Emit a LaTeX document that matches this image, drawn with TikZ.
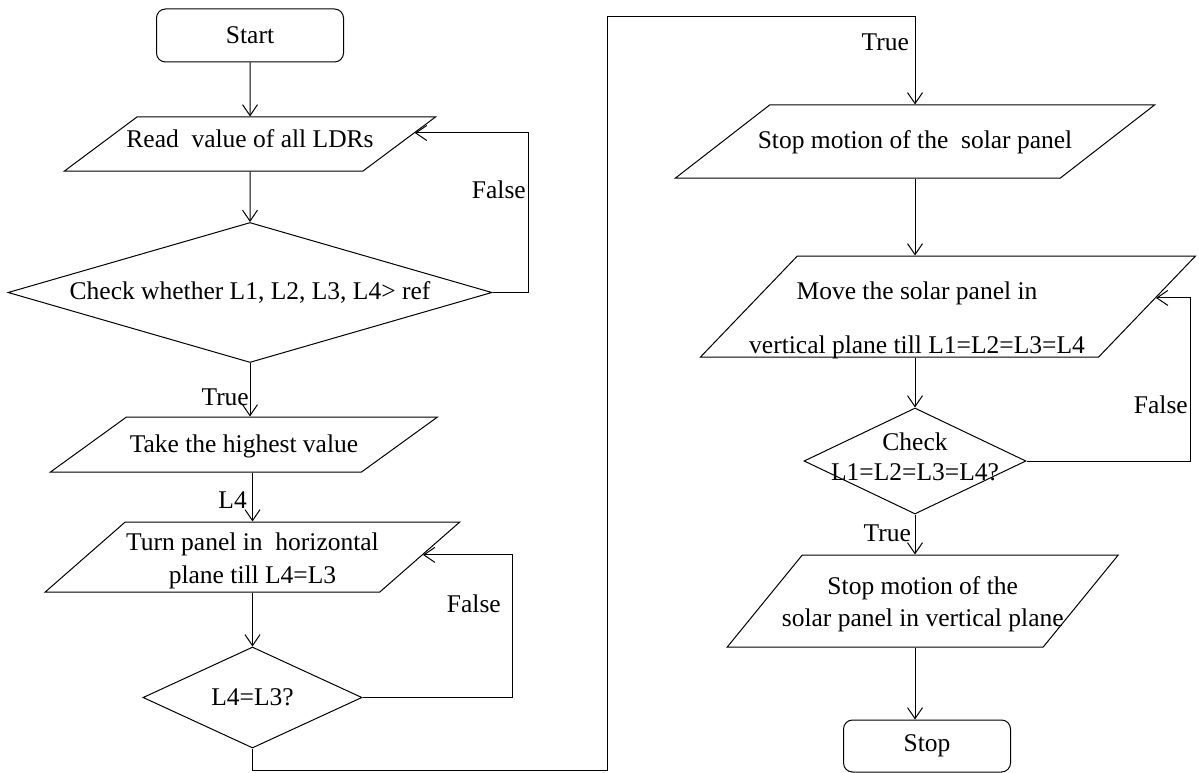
\documentclass[tikz,border=0pt]{standalone}
\usepackage{fontspec}
\setmainfont{Liberation Serif}
\usetikzlibrary{calc,arrows.meta,positioning,shapes.geometric}

\begin{document}
\begin{tikzpicture}[x=1pt, y=-1pt,
		every node/.style={font=\fontsize{25.5}{30}\selectfont},
		term/.style={draw, line width=1pt, rectangle, rounded corners=9pt},
		io/.style={draw, line width=1pt, trapezium, trapezium stretches body, inner xsep=1pt, inner ysep=0pt, align=center},
		dec/.style={draw, line width=1pt, diamond, inner sep=0pt, align=center},
		arr/.style={line width=1pt, -{Straight Barb[length=11pt, width=15pt]}},
		lbl/.style={inner sep=1pt, anchor=east}
	]
	\useasboundingbox (0,0) rectangle (1199,773);

	% Left column
	\node[term, minimum width=187pt, minimum height=53pt] (start) at (250,35.5) {Start};
	\node[io, inner xsep=-15pt, minimum width=371pt, text height=30pt, text depth=24pt, trapezium left angle=36.7, trapezium right angle=143.3] (read) at (250,144) {Read\ \ value of all LDRs};
	\node[dec, aspect=3.46, minimum width=484pt, minimum height=140pt] (chk1) at (250,292.5) {Check whether L1, L2, L3, L4> ref};
	\node[io, minimum width=387pt, text height=35pt, text depth=20pt, trapezium left angle=35.9, trapezium right angle=144.1] (take) at (244,444.5) {Take the highest value};
	\node[io, minimum width=407pt, text height=61pt, text depth=9pt, trapezium left angle=41.2, trapezium right angle=138.8] (turn) at (252.5,557) {Turn panel in\ \ horizontal\\[3pt] plane till L4=L3};
	\node[dec, aspect=2.17, minimum width=219pt, minimum height=101pt] (chk2) at (252.5,697.5) {L4=L3?};

	% Right column
	\node[io, inner xsep=-20pt, minimum width=479pt, text height=44pt, text depth=29pt, trapezium left angle=37.8, trapezium right angle=142.2] (stop1) at (915,141.5) {Stop motion of the\ \ solar panel};
	\node[io, minimum width=495pt, text height=60pt, text depth=41pt, trapezium left angle=46.2, trapezium right angle=133.8,
		label={[align=center, xshift=-31pt, yshift=-13.5pt]center:{Move the solar panel in\\[24pt] vertical plane till L1=L2=L3=L4}}] (move) at (948,306.5) {};
	\node[dec, minimum width=222pt, minimum height=106pt, label={[align=center, yshift=4pt]center:{Check\\L1=L2=L3=L4?}}] (chk3) at (915,461) {};
	\node[io, inner xsep=-30pt, minimum width=391pt, text height=71pt, text depth=21pt, trapezium left angle=50.8, trapezium right angle=129.2] (stop2) at (922.75,601) {Stop motion of the\\[2pt] solar panel in vertical plane};
	\node[term, minimum width=167pt, minimum height=52pt] (stopn) at (927,746) {Stop};

	% Entry points on the slanted sides
	\coordinate (rdin) at ($(read.bottom right corner)!0.7!(read.top right corner)$);
	\coordinate (tnin) at ($(turn.bottom right corner)!0.53!(turn.top right corner)$);
	\coordinate (mvin) at ($(move.bottom right corner)!0.584!(move.top right corner)$);

	% Connectors
	\draw[arr] (start) -- (read);
	\draw[arr] (read) -- (chk1);
	\draw[arr] (chk1.east) -- ++(36,0) |- (rdin);
	\draw[arr] (chk1.south) -- (chk1.south |- take.north);
	\draw[arr] (turn.north |- take.south) -- (turn.north);
	\draw[arr] (chk2.north |- turn.south) -- (chk2.north);
	\draw[arr] (chk2.east) -- ++(150,0) |- (tnin);
	\draw[arr] (chk2.south) -- ++(0,22) -| (607,17) -| (stop1.north);
	\draw[arr] (stop1.south) -- (stop1.south |- move.north);
	\draw[arr] (chk3.north |- move.south) -- (chk3.north);
	\draw[arr] (chk3.east) -- ++(164,0) |- (mvin);
	\draw[arr] (chk3.south) -- (chk3.south |- stop2.north);
	\draw[arr] (chk3.south |- stop2.south) -- (chk3.south |- stopn.north);

	% Branch labels
	\node[lbl] (f1) at (527,190) {False};
	\node[lbl] (t1) at (250,397) {True};
	\node[lbl] (l4) at (248,500) {L4};
	\node[lbl] (f2) at (502,604) {False};
	\node[lbl] (t2) at (910,42) {True};
	\node[lbl] (f3) at (1189,405) {False};
	\node[lbl] (t3) at (912,533) {True};
\end{tikzpicture}
\end{document}
